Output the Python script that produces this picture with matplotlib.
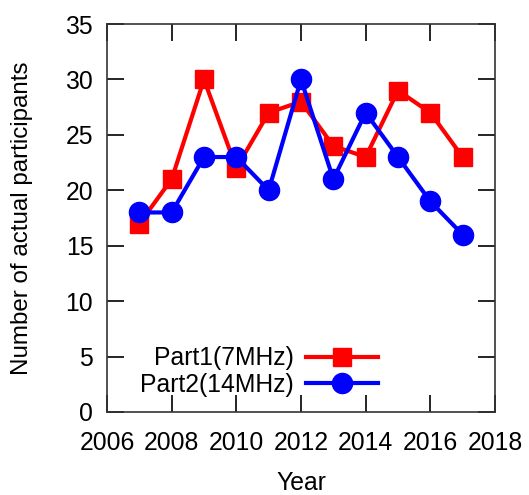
import matplotlib
matplotlib.use("Agg")
import matplotlib.pyplot as plt

years = [2007, 2008, 2009, 2010, 2011, 2012, 2013, 2014, 2015, 2016, 2017]
part1 = [17, 21, 30, 22, 27, 28, 24, 23, 29, 27, 23]
part2 = [18, 18, 23, 23, 20, 30, 21, 27, 23, 19, 16]
xticks = [2006, 2008, 2010, 2012, 2014, 2016, 2018]
yticks = [0, 5, 10, 15, 20, 25, 30, 35]

plt.rcParams['font.family'] = ['Liberation Sans', 'DejaVu Sans']
fs = 17.8

fig = plt.figure(figsize=(5.29, 4.95), dpi=100)
ax = fig.add_axes([0.2023, 0.1677, 0.7334, 0.7838])

ax.plot(years, part1, color='#ff0000', lw=3, marker='s', ms=13.5,
        label='Part1(7MHz)')
ax.plot(years, part2, color='#0000ff', lw=3, marker='o', ms=14.5,
        label='Part2(14MHz)')

ax.set_xlim(2006, 2018)
ax.set_ylim(0, 35)
ax.set_xticks(xticks)
ax.set_yticks(yticks)
ax.tick_params(direction='in', length=12, width=1.2, top=True, right=True,
               labelsize=fs, colors='black')
ax.tick_params(axis='x', pad=14)
ax.tick_params(axis='y', pad=10)
for s in ax.spines.values():
    s.set_linewidth(1.2)
    s.set_color('#333333')

ax.set_xlabel('Year', fontsize=fs)
ax.xaxis.set_label_coords(0.5, -0.152)
ax.set_ylabel('Number of actual participants', fontsize=17.4)
ax.yaxis.set_label_coords(-0.19, 0.5)

leg = ax.legend(loc='lower left', bbox_to_anchor=(0.06, 0.014), frameon=False,
                markerfirst=False, fontsize=fs, handlelength=2.9,
                handletextpad=0.5, labelspacing=0.1, borderaxespad=0)
for t in leg.get_texts():
    t.set_ha('right')

fig.savefig('out.png', dpi=100)
